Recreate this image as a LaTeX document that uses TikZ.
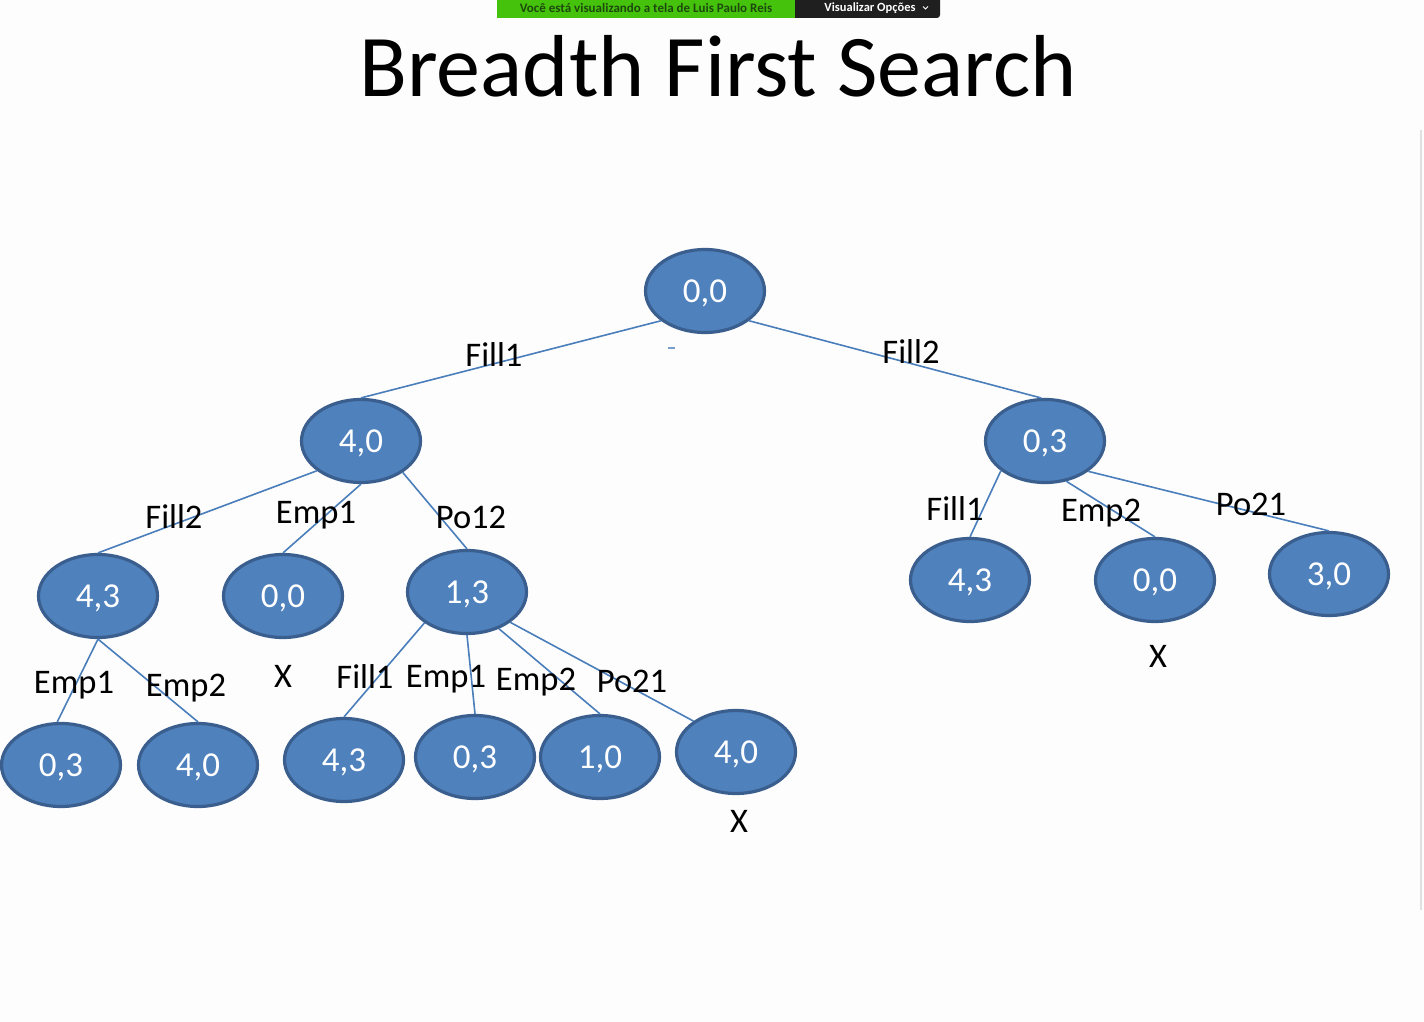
\documentclass[tikz,border=0pt]{standalone}
\usepackage{fontspec}
\setmainfont{Carlito}
\usetikzlibrary{shapes.geometric}
\definecolor{statefill}{HTML}{4F81BD}
\definecolor{stateedge}{HTML}{3A5F8E}
\definecolor{linkblue}{HTML}{4A7EBB}
\definecolor{bannergreen}{HTML}{45C20C}
\definecolor{bannertext}{HTML}{1D4A0C}
\definecolor{bannerdark}{HTML}{1F1F1F}
\definecolor{pagebg}{HTML}{FDFDFD}
\begin{document}
\begin{tikzpicture}[x=1pt,y=-1pt,
  state/.style={ellipse, fill=statefill, draw=stateedge, line width=3.2pt,
    minimum width=119pt, minimum height=83pt, inner sep=0pt,
    text=white, text height=22pt, text depth=0pt,
    font=\fontsize{35}{35}\selectfont},
  link/.style={draw=linkblue, line width=1.6pt},
  act/.style={anchor=base, font=\fontsize{34.5}{34.5}\selectfont, inner sep=0pt},
  banner/.style={font=\fontsize{13}{13}\selectfont\bfseries, inner sep=0pt}]
  % page
  \fill[pagebg] (0,0) rectangle (1424,1022);
  \useasboundingbox (0,0) rectangle (1424,1022);
  \draw[black!12, line width=1.5pt] (1421,130) -- (1421,910);

  % screen-share banner
  \fill[bannergreen] (497,0) rectangle (795,18);
  \fill[bannerdark, rounded corners=3pt] (795,-5) -- (940,-5) -- (940,18) -- (795,18) -- cycle;
  \fill[bannerdark] (795,-5) rectangle (800,18);
  \node[banner, text=bannertext] (share) at (646,8) {Você está visualizando a tela de Luis Paulo Reis};
  \node[banner, text=white, font=\fontsize{12.5}{12.5}\selectfont\bfseries] (opts) at (870,8) {Visualizar Opções};
  \draw[white, line width=0.9pt] (923,6.5) -- (925.5,9) -- (928,6.5);

  % title
  \node[anchor=base, inner sep=0pt, font=\fontsize{88}{88}\selectfont] (title) at (718,97) {Breadth First Search};

  % states
  \node[state] (r)    at (705,291) {0,0};
  \node[state] (a)    at (361,441) {4,0};
  \node[state] (b)    at (1045,441) {0,3};
  \node[state] (a1)   at (98,596) {4,3};
  \node[state] (a2)   at (283,596) {0,0};
  \node[state] (a3)   at (467,592) {1,3};
  \node[state] (b1)   at (970,580) {4,3};
  \node[state] (b2)   at (1155,580) {0,0};
  \node[state] (b3)   at (1329,574) {3,0};
  \node[state] (a11)  at (61,765) {0,3};
  \node[state] (a12)  at (198,765) {4,0};
  \node[state] (a31)  at (344,760) {4,3};
  \node[state] (a32)  at (475,757) {0,3};
  \node[state] (a33)  at (600,757) {1,0};
  \node[state] (a34)  at (736,752) {4,0};

  % transitions
  \draw[link] (r.214) -- (a.north);
  \draw[link] (r.326) -- (b.95);
  \draw[link] (a.214) -- (a1.north);
  \draw[link] (a.south) -- (a2.north);
  \draw[link] (a.323) -- (a3.north);
  \draw[link] (a1.south) -- (a11.95);
  \draw[link] (a1.south) -- (a12.north);
  \draw[link] (a3.216) -- (a31.north);
  \draw[link] (a3.south) -- (a32.north);
  \draw[link] (a3.311) -- (a33.north);
  \draw[link] (a3.325) -- (a34.144);
  \draw[link] (b.214) -- (b1.north);
  \draw[link] (b.298) -- (b2.north);
  \draw[link] (b.325) -- (b3.north);

  % action labels
  \node[act] (l1)  at (494,366) {Fill1};
  \node[act] (l2)  at (911,363) {Fill2};
  \node[act] (l3)  at (174,528) {Fill2};
  \node[act] (l4)  at (316,523) {Emp1};
  \node[act] (l5)  at (471,528) {Po12};
  \node[act] (l6)  at (955,520) {Fill1};
  \node[act] (l7)  at (1101,521) {Emp2};
  \node[act] (l8)  at (1251,515) {Po21};
  \node[act] (l9)  at (74,693) {Emp1};
  \node[act] (l10) at (186,696) {Emp2};
  \node[act] (l11) at (365,688) {Fill1};
  \node[act] (l12) at (446,687) {Emp1};
  \node[act] (l13) at (536,690) {Emp2};
  \node[act] (l14) at (632,692) {Po21};

  % pruned (repeated) states
  \node[act] (x1) at (283,687) {X};
  \node[act] (x2) at (739,832) {X};
  \node[act] (x3) at (1158,667) {X};

  % stray mark under the root
  \draw[linkblue!75, line width=1.6pt] (668,348) -- (675,348);
\end{tikzpicture}
\end{document}
